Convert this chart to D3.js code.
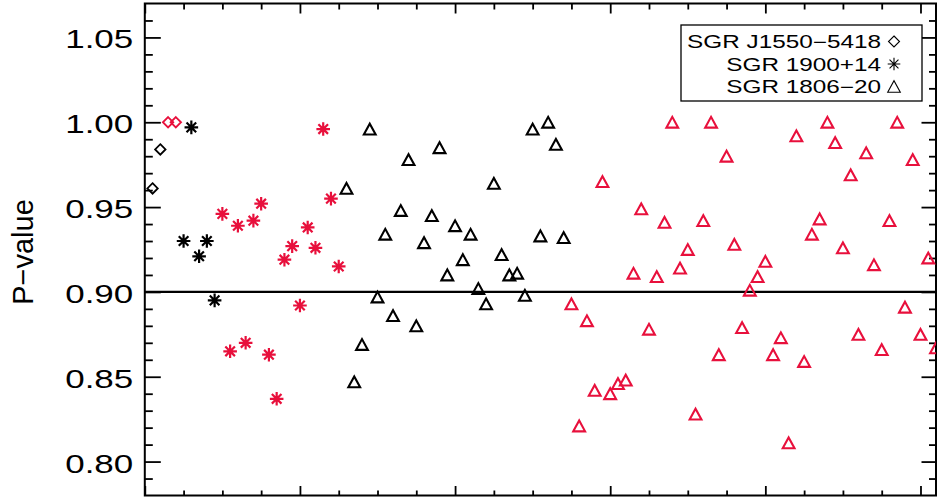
<!DOCTYPE html>
<html>
<head>
<meta charset="utf-8">
<script src="https://cdn.jsdelivr.net/npm/d3@7/dist/d3.min.js"></script>
<style>
  html, body { margin: 0; padding: 0; background: #fff; }
  svg { display: block; }
  text { font-family: "Liberation Sans", Arial, Helvetica, sans-serif; fill: #000; }
</style>
</head>
<body>
<svg id="chart" width="937" height="497"></svg>
<script>
// Burst-by-burst P-values for three soft gamma repeaters.
// Burst index on x, P-value on y; red marks flagged bursts.
const sourceNames = ["SGR J1550\u22125418", "SGR 1900+14", "SGR 1806\u221220"];

const j1550Burst = [1, 2, 3, 4];
const j1550P     = [0.961, 0.984, 1.000, 1.000];
const j1550Red   = [0, 0, 1, 1];

const s1900Burst = [5, 6, 7, 8, 9, 10, 11, 12, 13, 14, 15, 16, 17, 18, 19, 20, 21, 22, 23, 24, 25];
const s1900P     = [0.930, 0.997, 0.921, 0.930, 0.895, 0.946, 0.865, 0.939, 0.870, 0.942, 0.952,
                    0.863, 0.837, 0.919, 0.927, 0.892, 0.938, 0.926, 0.996, 0.955, 0.915];
const s1900Red   = [0, 0, 0, 0, 0, 1, 1, 1, 1, 1, 1, 1, 1, 1, 1, 1, 1, 1, 1, 1, 1];

const s1806Burst = [26, 27, 28, 29, 30, 31, 32, 33, 34, 35, 36, 37, 38, 39, 40, 41, 42, 43, 44, 45,
                    46, 47, 48, 49, 50, 51, 52, 53, 54, 55, 56, 57, 58, 59, 60, 61, 62, 63, 64, 65,
                    66, 67, 68, 69, 70, 71, 72, 73, 74, 75, 76, 77, 78, 79, 80, 81, 82, 83, 84, 85,
                    86, 87, 88, 89, 90, 91, 92, 93, 94, 95, 96, 97, 98, 99, 100, 101, 102];
const s1806P     = [0.961, 0.847, 0.869, 0.996, 0.897, 0.934, 0.886, 0.948, 0.978, 0.880,
                    0.929, 0.945, 0.985, 0.910, 0.939, 0.919, 0.934, 0.902, 0.893, 0.964,
                    0.922, 0.910, 0.911, 0.898, 0.996, 0.933, 1.000, 0.987, 0.932,
                    0.893, 0.821, 0.883, 0.842, 0.965, 0.840, 0.846, 0.848, 0.911, 0.949,
                    0.878, 0.909, 0.941, 1.000, 0.914, 0.925, 0.828, 0.942, 1.000, 0.863,
                    0.980, 0.928, 0.879, 0.901, 0.909, 0.918, 0.863, 0.873, 0.811, 0.992,
                    0.859, 0.934, 0.943, 1.000, 0.988, 0.926, 0.969, 0.875, 0.982, 0.916,
                    0.866, 0.942, 1.000, 0.891, 0.978, 0.875, 0.920, 0.867];
const s1806Red   = s1806Burst.map(b => b >= 55 ? 1 : 0);

const xDomain = [0, 102];
const yDomain = [0.78, 1.07];
const yMajorTicks = [0.80, 0.85, 0.90, 0.95, 1.00, 1.05];
const threshold = 0.90;

const RED = "#e8103c";
const plot = { left: 144.8, right: 936, top: 3.5, bottom: 495.5 };

const svg = d3.select("#chart");
const x = d3.scaleLinear().domain(xDomain).range([plot.left, plot.right]);
const y = d3.scaleLinear().domain(yDomain).range([plot.bottom, plot.top]);

const xMajor = d3.range(0, 101, 20);
const xMinor = d3.range(0, 103, 5).filter(v => v % 20 !== 0);
const yMinor = d3.range(79, 107).map(v => v / 100).filter(v => !yMajorTicks.some(m => Math.abs(m - v) < 1e-9));

// clip region for the markers
svg.append("defs").append("clipPath").attr("id", "plotClip")
  .append("rect")
  .attr("x", plot.left).attr("y", plot.top)
  .attr("width", plot.right - plot.left).attr("height", plot.bottom - plot.top);

function styleAxis(g) {
  g.select(".domain").remove();
  g.selectAll(".tick line").attr("stroke", "#000").attr("stroke-width", 1.8);
}

// bottom / top axes: ticks pointing inward, no labels
svg.append("g").attr("transform", `translate(0,${plot.bottom})`)
  .call(d3.axisBottom(x).tickValues(xMajor).tickSize(-9.5).tickFormat("")).call(styleAxis);
svg.append("g").attr("transform", `translate(0,${plot.bottom})`)
  .call(d3.axisBottom(x).tickValues(xMinor).tickSize(-5).tickFormat("")).call(styleAxis);
svg.append("g").attr("transform", `translate(0,${plot.top})`)
  .call(d3.axisTop(x).tickValues(xMajor).tickSize(-10).tickFormat("")).call(styleAxis);
svg.append("g").attr("transform", `translate(0,${plot.top})`)
  .call(d3.axisTop(x).tickValues(xMinor).tickSize(-6).tickFormat("")).call(styleAxis);

// left axis with labels
const yLeft = svg.append("g").attr("transform", `translate(${plot.left},0)`)
  .call(d3.axisLeft(y).tickValues(yMajorTicks).tickSize(-16).tickPadding(0).tickFormat(d3.format(".2f")))
  .call(styleAxis);
yLeft.selectAll(".tick text")
  .attr("x", null).attr("dy", null)
  .attr("text-anchor", "end")
  .attr("font-size", 25)
  .attr("transform", "translate(-11.5,10.5) scale(1.4,1)");
svg.append("g").attr("transform", `translate(${plot.left},0)`)
  .call(d3.axisLeft(y).tickValues(yMinor).tickSize(-8).tickFormat("")).call(styleAxis);

// right axis
svg.append("g").attr("transform", `translate(${plot.right},0)`)
  .call(d3.axisRight(y).tickValues(yMajorTicks).tickSize(-14.5).tickFormat("")).call(styleAxis);
svg.append("g").attr("transform", `translate(${plot.right},0)`)
  .call(d3.axisRight(y).tickValues(yMinor).tickSize(-7).tickFormat("")).call(styleAxis);

// frame
svg.append("rect")
  .attr("x", plot.left).attr("y", plot.top)
  .attr("width", plot.right - plot.left).attr("height", plot.bottom - plot.top)
  .attr("fill", "none").attr("stroke", "#000").attr("stroke-width", 2);

// threshold line
svg.append("line")
  .attr("x1", plot.left).attr("x2", plot.right)
  .attr("y1", y(threshold)).attr("y2", y(threshold))
  .attr("stroke", "#000").attr("stroke-width", 2.4);

// marker shapes
function diamondPath(r) { return `M0,${-r}L${r},0L0,${r}L${-r},0Z`; }
function asteriskPath(r) {
  const d = r * Math.SQRT1_2;
  return `M${-r},0L${r},0M0,${-r}L0,${r}M${-d},${-d}L${d},${d}M${-d},${d}L${d},${-d}`;
}
function trianglePath(w, h) { return `M${-w},${h}L0,${-h}L${w},${h}Z`; }

const marks = svg.append("g").attr("clip-path", "url(#plotClip)");

function drawSeries(burst, pv, red, pathStr, sw) {
  const rows = burst.map((b, i) => ({ b, p: pv[i], red: red[i] }));
  marks.append("g").selectAll("path").data(rows).join("path")
    .attr("transform", d => `translate(${x(d.b)},${y(d.p)})`)
    .attr("d", pathStr)
    .attr("fill", "none")
    .attr("stroke", d => d.red ? RED : "#000")
    .attr("stroke-width", sw)
    .attr("stroke-linejoin", "miter");
}

drawSeries(j1550Burst, j1550P, j1550Red, diamondPath(5.2), 1.8);
drawSeries(s1900Burst, s1900P, s1900Red, asteriskPath(6.8), 2.2);
drawSeries(s1806Burst, s1806P, s1806Red, trianglePath(5.9, 5.4), 2.1);

// y-axis title
svg.append("text")
  .attr("transform", "translate(33,252) rotate(-90)")
  .attr("text-anchor", "middle")
  .attr("font-size", 29)
  .text("P\u2212value");

// legend
const legend = svg.append("g");
legend.append("rect")
  .attr("x", 681).attr("y", 25).attr("width", 241).attr("height", 76)
  .attr("fill", "#fff").attr("stroke", "#000").attr("stroke-width", 1.3);
const legendShapes = [diamondPath(5.5), asteriskPath(6.3), trianglePath(6.3, 5.8)];
sourceNames.forEach((name, i) => {
  const base = 48 + i * 22.5;
  legend.append("text")
    .attr("text-anchor", "end")
    .attr("font-size", 17.5)
    .attr("transform", `translate(881,${base}) scale(1.39,1)`)
    .text(name);
  legend.append("path")
    .attr("transform", `translate(894,${base - 6.5})`)
    .attr("d", legendShapes[i])
    .attr("fill", "none").attr("stroke", "#000").attr("stroke-width", 1.1);
});
</script>
</body>
</html>
